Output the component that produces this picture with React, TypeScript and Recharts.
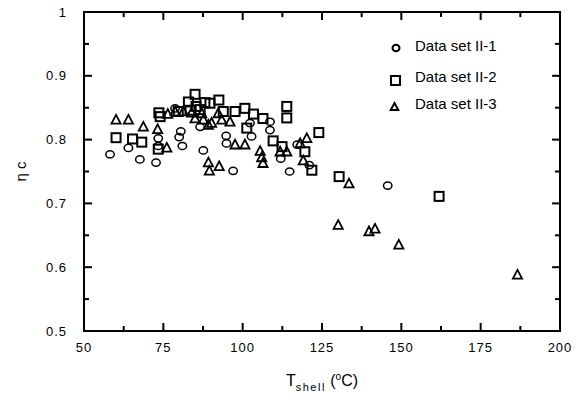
import React from 'react';
import { ScatterChart, Scatter, XAxis, YAxis, ReferenceArea, ReferenceLine } from 'recharts';

const seriesNames = ['Data set II-1', 'Data set II-2', 'Data set II-3'];

const tShellII1 = [58.2, 64.0, 67.6, 72.7, 73.4, 73.4, 78.7, 80.5, 80.0, 81.0, 86.6, 87.6, 94.8, 94.9, 97.0, 102.3, 102.8, 108.6, 108.6, 112.0, 114.8, 117.2, 121.0, 145.7];
const etaII1 = [0.777, 0.787, 0.769, 0.764, 0.802, 0.790, 0.849, 0.813, 0.804, 0.790, 0.820, 0.783, 0.806, 0.794, 0.751, 0.826, 0.805, 0.828, 0.815, 0.770, 0.750, 0.792, 0.760, 0.728];

const tShellII2 = [60.1, 65.3, 68.2, 73.4, 73.6, 74.0, 79.7, 82.9, 83.4, 85.0, 85.3, 86.6, 88.1, 89.7, 92.5, 93.9, 97.6, 100.7, 101.3, 103.4, 106.4, 109.6, 112.4, 113.9, 113.9, 119.6, 121.8, 124.0, 130.4, 161.9];
const etaII2 = [0.803, 0.801, 0.796, 0.785, 0.842, 0.836, 0.844, 0.859, 0.846, 0.871, 0.852, 0.847, 0.858, 0.857, 0.862, 0.844, 0.844, 0.849, 0.818, 0.840, 0.833, 0.798, 0.789, 0.852, 0.834, 0.781, 0.752, 0.811, 0.742, 0.711];

const tShellII3 = [60.1, 64.0, 68.7, 73.2, 76.1, 76.4, 78.7, 81.3, 83.9, 85.0, 87.1, 87.6, 89.2, 90.2, 92.3, 93.4, 96.0, 89.2, 89.5, 92.6, 97.6, 100.7, 105.5, 106.0, 106.4, 111.8, 113.9, 118.1, 120.2, 119.1, 130.1, 133.5, 139.8, 141.7, 149.2, 186.6];
const etaII3 = [0.831, 0.831, 0.820, 0.816, 0.787, 0.840, 0.844, 0.844, 0.842, 0.833, 0.841, 0.831, 0.823, 0.826, 0.841, 0.831, 0.828, 0.764, 0.751, 0.758, 0.792, 0.792, 0.782, 0.772, 0.763, 0.781, 0.781, 0.794, 0.802, 0.767, 0.666, 0.731, 0.656, 0.660, 0.635, 0.588];

const xTicks = [50, 62.5, 75, 87.5, 100, 112.5, 125, 137.5, 150, 162.5, 175, 187.5, 200];
const yTicks = [0.5, 0.55, 0.6, 0.65, 0.7, 0.75, 0.8, 0.85, 0.9, 0.95, 1];

const X_MIN = 50, X_MAX = 200, Y_MIN = 0.5, Y_MAX = 1;

const toPoints = (xs: number[], ys: number[]) => xs.map((x, i) => ({ x, y: ys[i] }));
const dataII1 = toPoints(tShellII1, etaII1);
const dataII2 = toPoints(tShellII2, etaII2);
const dataII3 = toPoints(tShellII3, etaII3);

const FONT = '"Liberation Sans", Arial, Helvetica, sans-serif';
const isMajorX = (v: number) => v % 25 === 0;
const isMajorY = (v: number) => Math.abs(v * 10 - Math.round(v * 10)) < 1e-6;
const fmtY = (v: number) => (v === 1 ? '1' : v.toFixed(1));

// tick mark lengths in data units (major ≈ 8px, minor ≈ 5px)
const X_TICK_LEN_MAJOR = 0.0125, X_TICK_LEN_MINOR = 0.008;
const Y_TICK_LEN_MAJOR = 2.5, Y_TICK_LEN_MINOR = 1.6;

const CircleShape = (p: any) => (
  <ellipse cx={p.cx} cy={p.cy} rx={4.2} ry={3.6} fill="none" stroke="#000" strokeWidth={1.5} />
);
const SquareShape = (p: any) => (
  <rect x={p.cx - 4.5} y={p.cy - 4.5} width={9} height={9} fill="none" stroke="#000" strokeWidth={2} />
);
const TriangleShape = (p: any) => (
  <path d={`M${p.cx},${p.cy - 5} L${p.cx + 4.6},${p.cy + 3.8} L${p.cx - 4.6},${p.cy + 3.8} Z`} fill="none" stroke="#000" strokeWidth={1.8} />
);

const BottomTick = ({ x, y, payload }: any) => {
  const nx = Number(x), ny = Number(y);
  const major = isMajorX(payload.value);
  return (
    <g>
      <path d={`M${nx},${ny} L${nx},${ny - (major ? 8 : 5)}`} stroke="#000" strokeWidth={2} fill="none" />
      {major && (
        <text x={nx} y={ny + 21} textAnchor="middle" fontSize={13} letterSpacing={1} fontFamily={FONT} fill="#000">
          {payload.value}
        </text>
      )}
    </g>
  );
};
const LeftTick = ({ x, y, payload }: any) => {
  const nx = Number(x), ny = Number(y);
  const v = payload.value;
  const major = isMajorY(v);
  return (
    <g>
      <path d={`M${nx},${ny} L${nx + (major ? 8 : 5)},${ny}`} stroke="#000" strokeWidth={2} fill="none" />
      {major && (
        <text x={nx - 17} y={ny} dy="0.35em" textAnchor="end" fontSize={13} letterSpacing={1} fontFamily={FONT} fill="#000">
          {fmtY(v)}
        </text>
      )}
    </g>
  );
};

const XTitle = (props: any) => {
  const vb = props.viewBox || { x: 84, y: 331, width: 476, height: 30 };
  const cx = vb.x + vb.width / 2;
  return (
    <text x={cx} y={vb.y + 55} textAnchor="middle" fontFamily={FONT} fill="#000" fontSize={16}>
      <tspan fontSize={16}>T</tspan>
      <tspan fontSize={11} dy={5} letterSpacing={1.5}>shell</tspan>
      <tspan fontSize={16} dy={-5}> (</tspan>
      <tspan fontSize={10} dy={-6}>o</tspan>
      <tspan fontSize={16} dy={6}>C)</tspan>
    </text>
  );
};
const YTitle = (props: any) => {
  const vb = props.viewBox || { x: 24, y: 12, width: 60, height: 319 };
  const tx = 26;
  const ty = vb.y + vb.height / 2;
  return (
    <text x={tx} y={ty} textAnchor="middle" transform={`rotate(-90, ${tx}, ${ty})`} fontFamily={FONT} fontSize={15} fill="#000">
      η c
    </text>
  );
};

const LegendOverlay = () => {
  const rows = [
    { name: seriesNames[0], sym: <ellipse cx={16} cy={18} rx={3.5} ry={3.2} fill="none" stroke="#000" strokeWidth={2} /> },
    { name: seriesNames[1], sym: <rect x={11} y={46} width={9} height={9} fill="none" stroke="#000" strokeWidth={2} /> },
    { name: seriesNames[2], sym: <path d="M14.5,73 L18.3,80 L10.7,80 Z" fill="none" stroke="#000" strokeWidth={2} /> },
  ];
  const textY = [20.5, 51.5, 78.5];
  return (
    <svg width={180} height={95} style={{ position: 'absolute', left: 380, top: 30, display: 'block' }}>
      {rows.map((r, i) => (
        <g key={r.name}>
          {r.sym}
          <text x={35} y={textY[i]} fontFamily={FONT} fontSize={15} fill="#000">
            {r.name}
          </text>
        </g>
      ))}
    </svg>
  );
};

export default function App() {
  const topTickMarks = xTicks.map((v) => {
    const len = isMajorX(v) ? X_TICK_LEN_MAJOR : X_TICK_LEN_MINOR;
    return (
      <ReferenceLine key={`xt${v}`} xAxisId={0} yAxisId={0} stroke="#000" strokeWidth={2} ifOverflow="visible" segment={[{ x: v, y: Y_MAX }, { x: v, y: Y_MAX - len }]} />
    );
  });
  const rightTickMarks = yTicks.map((v) => {
    const len = isMajorY(v) ? Y_TICK_LEN_MAJOR : Y_TICK_LEN_MINOR;
    return (
      <ReferenceLine key={`yr${v}`} xAxisId={0} yAxisId={0} stroke="#000" strokeWidth={2} ifOverflow="visible" segment={[{ x: X_MAX, y: v }, { x: X_MAX - len, y: v }]} />
    );
  });

  return (
    <div style={{ position: 'absolute', left: 0, top: 0, width: 579, height: 410, background: '#fff' }}>
      <ScatterChart width={579} height={410} margin={{ top: 12, right: 19, bottom: 49, left: 24 }}>
        <XAxis
          xAxisId={0}
          dataKey="x"
          type="number"
          domain={[X_MIN, X_MAX]}
          ticks={xTicks}
          interval={0}
          tickSize={0}
          tickMargin={0}
          tickLine={false}
          axisLine={{ stroke: '#000', strokeWidth: 2 }}
          tick={<BottomTick />}
          height={30}
          label={<XTitle />}
        />
        <YAxis
          yAxisId={0}
          dataKey="y"
          type="number"
          domain={[Y_MIN, Y_MAX]}
          ticks={yTicks}
          interval={0}
          tickSize={0}
          tickMargin={0}
          tickLine={false}
          axisLine={{ stroke: '#000', strokeWidth: 2 }}
          tick={<LeftTick />}
          width={60}
          label={<YTitle />}
        />
        {topTickMarks}
        {rightTickMarks}
        <ReferenceArea
          xAxisId={0}
          yAxisId={0}
          x1={X_MIN}
          x2={X_MAX}
          y1={Y_MIN}
          y2={Y_MAX}
          fill="none"
          stroke="#000"
          strokeWidth={2}
          ifOverflow="visible"
        />
        <Scatter name={seriesNames[0]} data={dataII1} xAxisId={0} yAxisId={0} shape={CircleShape} isAnimationActive={false} />
        <Scatter name={seriesNames[1]} data={dataII2} xAxisId={0} yAxisId={0} shape={SquareShape} isAnimationActive={false} />
        <Scatter name={seriesNames[2]} data={dataII3} xAxisId={0} yAxisId={0} shape={TriangleShape} isAnimationActive={false} />
      </ScatterChart>
      <LegendOverlay />
    </div>
  );
}
